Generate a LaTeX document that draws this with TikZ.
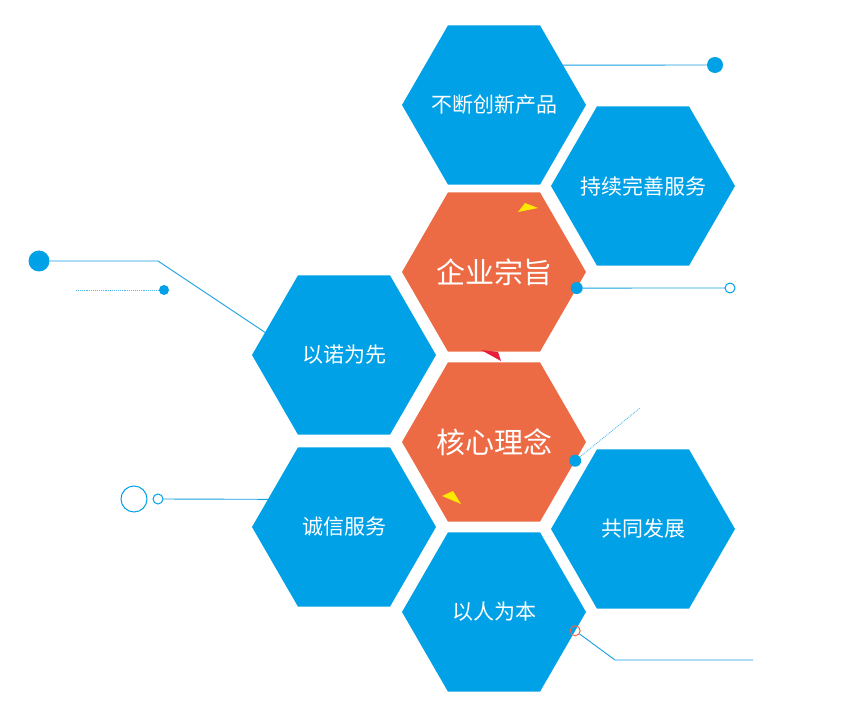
\documentclass[tikz,border=0pt]{standalone}
\usepackage{fontspec}
\newfontfamily\cjk{Noto Sans CJK SC}
\usetikzlibrary{shapes.geometric}
\definecolor{hexblue}{RGB}{0,161,230}
\definecolor{hexorange}{RGB}{237,107,68}
\definecolor{linkblue}{RGB}{20,160,228}
\definecolor{paleblue}{RGB}{80,185,238}
\definecolor{flagyellow}{RGB}{255,232,0}
\definecolor{flagred}{RGB}{232,30,60}

\begin{document}
\begin{tikzpicture}[x=1pt, y=-1pt,
  hex/.style={regular polygon, regular polygon sides=6, minimum size=184pt, inner sep=0pt, outer sep=0pt, text=white, font=\cjk\fontsize{21}{25}\selectfont},
  hexb/.style={hex, fill=hexblue},
  hexo/.style={hex, fill=hexorange, font=\cjk\fontsize{29}{33}\selectfont},
  link/.style={draw=linkblue, line width=0.9pt},
  dotlink/.style={draw=paleblue, line width=0.9pt, densely dotted},
  filldot/.style={circle, fill=hexblue, inner sep=0pt, outer sep=0pt},
  ringdot/.style={circle, draw=hexblue, line width=1pt, inner sep=0pt, outer sep=0pt}
]
\useasboundingbox (0,0) rectangle (868,714);

% honeycomb
\node[hexb] (chuangxin) at (494,105) {\makebox[0pt]{不断创新产品}};
\node[hexb] (wanshan) at (643,186) {\makebox[0pt]{持续完善服务}};
\node[hexo] (zongzhi) at (494,272) {\makebox[0pt]{企业宗旨}};
\node[hexb] (nuo) at (344,355) {以诺为先};
\node[hexo] (linian) at (494,442) {\makebox[0pt]{核心理念}};
\node[hexb] (chengxin) at (344,527) {诚信服务};
\node[hexb] (fazhan) at (643,529) {共同发展};
\node[hexb] (renben) at (494,612) {以人为本};

% small flags
\fill[flagyellow] (518,212) -- (525,203) -- (538,208) -- cycle;
\fill[flagred] (481,350) -- (498,352) -- (501,361) -- cycle;
\fill[flagyellow] (442,496) -- (453,491) -- (461,504) -- cycle;

% dots and rings
\node[filldot, minimum size=16pt] (dtop) at (715,65) {};
\node[filldot, minimum size=21pt] (dleft) at (39,261) {};
\node[filldot, minimum size=10pt] (dsmall) at (164,290) {};
\node[filldot, minimum size=12pt] (dzong) at (zongzhi.-11) {};
\node[ringdot, fill=white, minimum size=10pt] (rzong) at (730,288) {};
\node[filldot, minimum size=12pt] (dli) at (linian.-13) {};
\node[ringdot, minimum size=10pt] (rcheng) at (158,499) {};
\node[ringdot, minimum size=26pt] (rbig) at (134,499) {};
\node[ringdot, draw=hexorange, minimum size=10pt] (rren) at (renben.-13) {};

\coordinate (bendl) at (158,261);
\coordinate (dotstart) at (76,290);
\coordinate (liend) at (640,408);
\coordinate (bendr) at (615,660);
\coordinate (renend) at (753,660);

% connectors
\draw[link] (chuangxin.30) -- (dtop);
\draw[link] (dleft) -- (bendl) -- (nuo.164);
\draw[dotlink] (dotstart) -- (dsmall);
\draw[link] (dzong) -- (rzong);
\draw[dotlink] (dli) -- (liend);
\draw[link] (chengxin.160) -- (rcheng);
\draw[link] (rren) -- (bendr) -- (renend);
\end{tikzpicture}
\end{document}
